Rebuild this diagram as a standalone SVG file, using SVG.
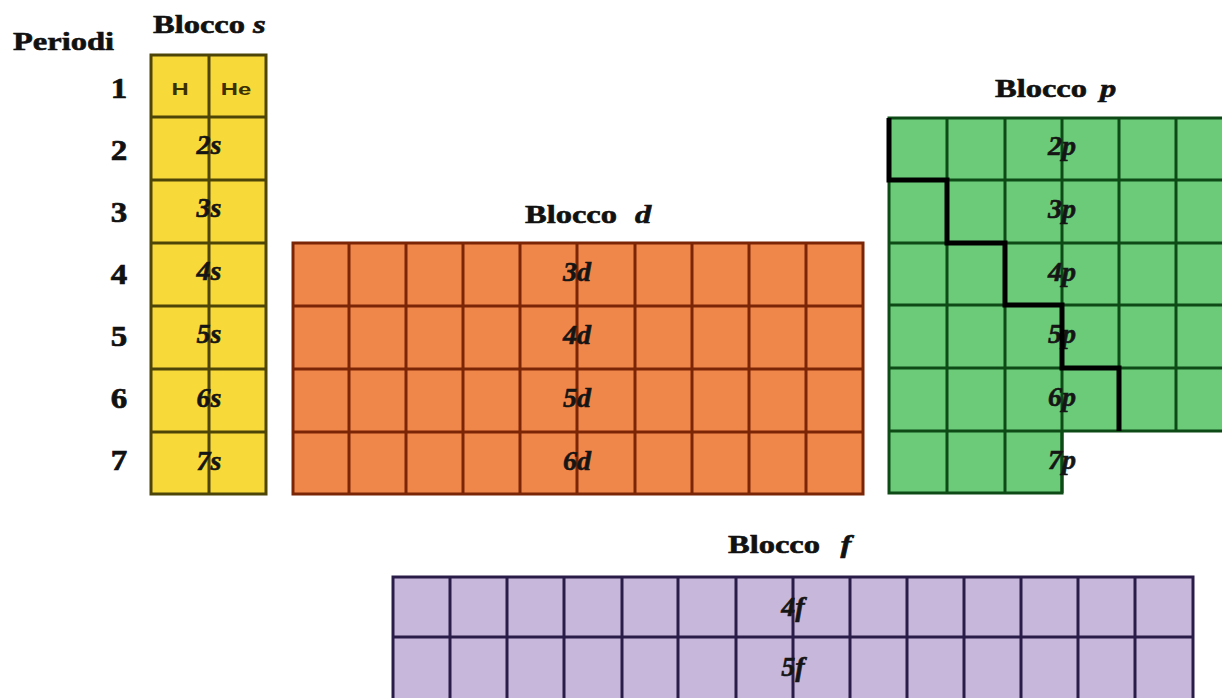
<svg xmlns="http://www.w3.org/2000/svg" width="1222" height="698" viewBox="0 0 1222 698">
<style>
.hdr{font-family:"Liberation Serif","Times New Roman",serif;font-weight:bold;font-size:26px;fill:#111;stroke:#111;stroke-width:0.6}
.it{font-style:italic}
.num{font-family:"Liberation Serif","Times New Roman",serif;font-weight:bold;font-size:30px;fill:#111;stroke:#111;stroke-width:0.7;text-anchor:middle}
.lbl{font-family:"Liberation Serif","Times New Roman",serif;font-weight:bold;font-style:italic;font-size:28px;fill:#151515;stroke:#151515;stroke-width:0.6;text-anchor:middle}
.el{font-family:"Liberation Sans",Arial,sans-serif;font-weight:bold;font-size:17px;fill:#3a3000;text-anchor:middle}
.gs{stroke:#4d4508;stroke-width:3;fill:none}
.gd{stroke:#7a2506;stroke-width:3;fill:none}
.gp{stroke:#0e4a16;stroke-width:3;fill:none}
.gf{stroke:#2a1c48;stroke-width:3;fill:none}
</style>
<rect width="1222" height="698" fill="#ffffff"/>

<g id="labels">
<text class="hdr" transform="translate(13,50) scale(1.25,1)">Periodi</text>
<text class="num" transform="translate(119,98) scale(1.1,1)">1</text>
<text class="num" transform="translate(119,160) scale(1.1,1)">2</text>
<text class="num" transform="translate(119,222) scale(1.1,1)">3</text>
<text class="num" transform="translate(119,284) scale(1.1,1)">4</text>
<text class="num" transform="translate(119,346) scale(1.1,1)">5</text>
<text class="num" transform="translate(119,408) scale(1.1,1)">6</text>
<text class="num" transform="translate(119,470) scale(1.1,1)">7</text>
</g>

<g id="block-s">
<text class="hdr" transform="translate(153,33) scale(1.25,1)">Blocco <tspan class="it" x="80">s</tspan></text>
<rect x="151" y="55" width="115" height="439" fill="#F8D93A"/>
<path class="gs" d="M209,55V494M151,117H266M151,180H266M151,243H266M151,306H266M151,369H266M151,432H266"/>
<rect class="gs" x="151" y="55" width="115" height="439"/>
<text class="el" transform="translate(180,95) scale(1.4,1)">H</text>
<text class="el" transform="translate(236,95) scale(1.4,1)">He</text>
<text class="lbl" x="209" y="154">2s</text>
<text class="lbl" x="209" y="217">3s</text>
<text class="lbl" x="209" y="280">4s</text>
<text class="lbl" x="209" y="343">5s</text>
<text class="lbl" x="209" y="407">6s</text>
<text class="lbl" x="209" y="470">7s</text>
</g>

<g id="block-d">
<text class="hdr" transform="translate(525,223) scale(1.25,1)">Blocco <tspan class="it" x="88">d</tspan></text>
<rect x="293" y="243" width="570" height="251" fill="#F0874A"/>
<path class="gd" d="M349,243V494M406,243V494M463,243V494M520,243V494M577,243V494M635,243V494M692,243V494M749,243V494M806,243V494M293,306H863M293,369H863M293,432H863"/>
<rect class="gd" x="293" y="243" width="570" height="251"/>
<text class="lbl" x="577" y="281">3d</text>
<text class="lbl" x="577" y="344">4d</text>
<text class="lbl" x="577" y="407">5d</text>
<text class="lbl" x="577" y="470">6d</text>
</g>

<g id="block-p">
<text class="hdr" transform="translate(995,97) scale(1.25,1)">Blocco <tspan class="it" x="84">p</tspan></text>
<path d="M889,118H1230V431H1062V493H889Z" fill="#6BCB78"/>
<path class="gp" d="M947,118V493M1005,118V493M1062,118V493M1119,118V431M1176,118V431M889,180H1230M889,243H1230M889,305H1230M889,368H1230M889,431H1230"/>
<path class="gp" d="M1230,118H889V493H1062V431"/>
<text class="lbl" x="1062" y="155">2p</text>
<text class="lbl" x="1062" y="218">3p</text>
<text class="lbl" x="1062" y="281">4p</text>
<text class="lbl" x="1062" y="343">5p</text>
<text class="lbl" x="1062" y="406">6p</text>
<text class="lbl" x="1062" y="469">7p</text>
<path d="M889,118V180H947V243H1005V305H1062V368H1119V431" fill="none" stroke="#000" stroke-width="5"/>
</g>

<g id="block-f">
<text class="hdr" transform="translate(728,553) scale(1.25,1)">Blocco <tspan class="it" x="90">f</tspan></text>
<rect x="393" y="577" width="800" height="140" fill="#C7B7DA"/>
<path class="gf" d="M450,577V717M507,577V717M564,577V717M622,577V717M678,577V717M736,577V717M793,577V717M850,577V717M907,577V717M964,577V717M1021,577V717M1078,577V717M1135,577V717M393,637H1193"/>
<rect class="gf" x="393" y="577" width="800" height="140"/>
<text class="lbl" x="793" y="616">4f</text>
<text class="lbl" x="793" y="676">5f</text>
</g>
</svg>
